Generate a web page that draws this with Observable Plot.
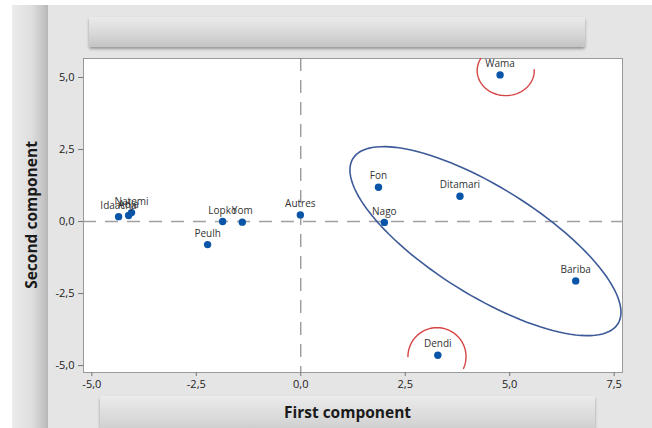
<!DOCTYPE html>
<html>
<head>
<meta charset="utf-8">
<script src="https://cdn.jsdelivr.net/npm/d3@7"></script>
<script src="https://cdn.jsdelivr.net/npm/@observablehq/plot@0.6"></script>
<style>
  body { margin: 0; background: #ffffff; }
  #wrap { position: relative; width: 652px; height: 428px; overflow: hidden; background: #ffffff;
          font-family: "Open Sans", "Noto Sans", sans-serif; }
  #bg { position: absolute; left: 12px; top: 5px; width: 640px; height: 423px; background: #e5e5e5; }
  #leftbar { position: absolute; left: 12px; top: 5px; width: 36px; height: 423px;
             background: linear-gradient(to right, #ececec 0%, #dedede 55%, #c2c2c2 90%, #b5b5b5 100%);
             border-top-left-radius: 3px; }
  #topbox { position: absolute; left: 89px; top: 17px; width: 496px; height: 30px;
            background: linear-gradient(to bottom, #ebebeb 0%, #d6d6d6 60%, #c4c4c4 100%);
            box-shadow: 0 2px 3px rgba(0,0,0,0.35); border-radius: 2px; }
  #botbox { position: absolute; left: 100px; top: 396px; width: 495px; height: 40px;
            background: linear-gradient(to bottom, #ebebeb 0%, #d8d8d8 60%, #c6c6c6 100%);
            box-shadow: 0 2px 3px rgba(0,0,0,0.35); border-radius: 2px; }
  #xtitle { position: absolute; left: 100px; top: 400px; width: 495px; text-align: center;
            font-weight: bold; font-size: 15.5px; color: #1a1a1a; line-height: 24px; }
  #ytitle { position: absolute; left: 31px; top: 215px; transform: translate(-50%, -50%) rotate(-90deg);
            white-space: nowrap; font-weight: bold; font-size: 15.5px; color: #1a1a1a; }
  #chart { position: absolute; left: 0; top: 0; }
</style>
</head>
<body>
<div id="wrap">
  <div id="bg"></div>
  <div id="leftbar"></div>
  <div id="topbox"></div>
  <div id="botbox"></div>
  <div id="xtitle">First component</div>
  <div id="ytitle">Second component</div>
  <div id="chart"></div>
</div>
<script>
// Data
const groups = ["Wama", "Fon", "Ditamari", "Nago", "Bariba", "Dendi", "Autres", "Peulh", "Lopko", "Yom", "Idaacha", "Adja", "Natemi"];
const firstComponent  = [4.77, 1.86, 3.81, 2.00, 6.58, 3.28, -0.01, -2.23, -1.87, -1.40, -4.36, -4.12, -4.05];
const secondComponent = [5.09, 1.19, 0.88, -0.03, -2.06, -4.64, 0.23, -0.80, 0.00, -0.02, 0.17, 0.21, 0.31];

// Axis ticks
const xTicks = [-5, -2.5, 0, 2.5, 5, 7.5];
const yTicks = [-5, -2.5, 0, 2.5, 5];
const xTickLabels = ["-5,0", "-2,5", "0,0", "2,5", "5,0", "7,5"];
const yTickLabels = ["-5,0", "-2,5", "0,0", "2,5", "5,0"];

// Annotation shapes (data units)
const clusterEllipse = { cx: 4.42, cy: -0.68, major: [3.17, -2.87], minor: [-0.686, -1.59] };
const wamaArc  = { cx: 4.905, cy: 5.24, rx: 0.683, ry: 0.868, from: -211, to: 4 };
const dendiArc = { cx: 3.26, cy: -4.69, rx: 0.695, ry: 1.007, from: -384, to: -178 };

const points = groups.map((g, i) => ({ name: g, x: firstComponent[i], y: secondComponent[i] }));

const ellipsePts = d3.range(0, 361, 3).map(a => {
  const t = a * Math.PI / 180;
  const e = clusterEllipse;
  return { x: e.cx + e.major[0] * Math.cos(t) + e.minor[0] * Math.sin(t),
           y: e.cy + e.major[1] * Math.cos(t) + e.minor[1] * Math.sin(t) };
});
function arcPts(a) {
  return d3.range(a.from, a.to + 0.001, 3).map(deg => {
    const t = deg * Math.PI / 180;
    return { x: a.cx + a.rx * Math.cos(t), y: a.cy + a.ry * Math.sin(t) };
  });
}
const wamaPts = arcPts(wamaArc);
const dendiPts = arcPts(dendiArc);

const xFmt = d => xTickLabels[xTicks.indexOf(d)];
const yFmt = d => yTickLabels[yTicks.indexOf(d)];

const chart = Plot.plot({
  width: 652,
  height: 428,
  marginLeft: 83,
  marginRight: 30,
  marginTop: 58,
  marginBottom: 56,
  style: { background: "transparent", fontFamily: "'Open Sans', 'Noto Sans', sans-serif", fontSize: "11px", color: "#222" },
  x: { domain: [-5.2, 7.7] },
  y: { domain: [-5.24, 5.66] },
  marks: [
    Plot.frame({ fill: "white", stroke: "#9a9a9a" }),
    Plot.axisX({ ticks: xTicks, tickFormat: xFmt, tickSize: 4, tickPadding: 4, stroke: "#777", fill: "#222", label: null }),
    Plot.axisY({ ticks: yTicks, tickFormat: yFmt, tickSize: 5, tickPadding: 4, stroke: "#777", fill: "#222", label: null }),
    Plot.ruleX([0], { stroke: "#8a8a8a", strokeWidth: 1.2, strokeDasharray: "13,9" }),
    Plot.ruleY([0], { stroke: "#a0a0a0", strokeWidth: 1.5, strokeDasharray: "13,9" }),
    Plot.line(ellipsePts, { x: "x", y: "y", stroke: "#3d5a98", strokeWidth: 1.6, curve: "linear-closed" }),
    Plot.line(wamaPts, { x: "x", y: "y", stroke: "#d64545", strokeWidth: 1.4, clip: true }),
    Plot.line(dendiPts, { x: "x", y: "y", stroke: "#d64545", strokeWidth: 1.4, clip: true }),
    Plot.dot(points, { x: "x", y: "y", r: 3.7, fill: "#0a55a8" }),
    Plot.text(points, { x: "x", y: "y", text: "name", dy: -11, fontSize: 10, fill: "#333" })
  ]
});
document.getElementById("chart").appendChild(chart);
</script>
</body>
</html>
